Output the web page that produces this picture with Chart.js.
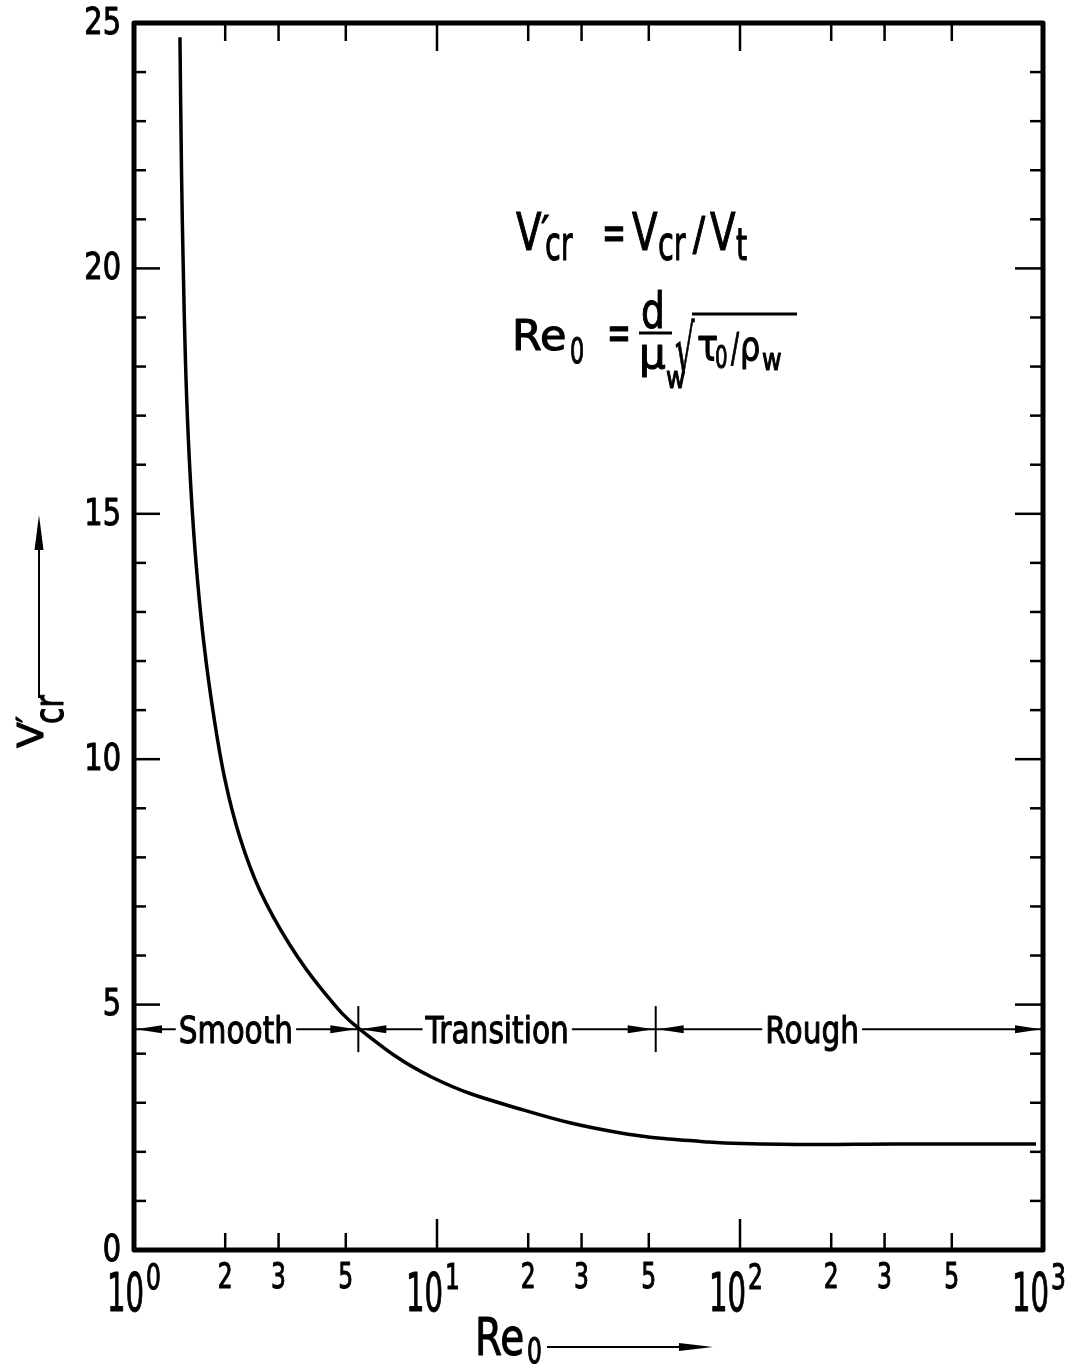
<!DOCTYPE html>
<html>
<head>
<meta charset="utf-8">
<script src="https://cdn.jsdelivr.net/npm/chart.js@4.4.1/dist/chart.umd.min.js"></script>
<style>
  html, body { margin: 0; padding: 0; background: #fff; }
  canvas { display: block; }
</style>
</head>
<body>
<canvas id="chart" width="1080" height="1369"></canvas>
<script>
// curve: V'cr against Re0
const reValues  = [1.418, 1.435, 1.454, 1.479, 1.511, 1.557, 1.620, 1.706, 1.827, 1.997, 2.238, 2.605, 3.273, 4.215, 5.504, 9.63, 19.37, 39.1, 78.8, 158.7, 319.8, 948];
const vcrValues = [24.71, 21.96, 20.01, 18.09, 16.54, 15.06, 13.65, 12.29, 10.94, 9.58, 8.40, 7.32, 6.21, 5.27, 4.52, 3.52, 2.85, 2.40, 2.20, 2.15, 2.16, 2.16];

// axes
const yTickLabels = [0, 5, 10, 15, 20, 25];
const xDecades = [1, 10, 100, 1000];
const xDecadeExp = ['0', '1', '2', '3'];
const xMinor = [2, 3, 5, 20, 30, 50, 200, 300, 500];
const xMinorLabels = ['2', '3', '5', '2', '3', '5', '2', '3', '5'];

// flow regimes
const regimeBounds = [5.5, 52.7];
const regimeNames = ['Smooth', 'Transition', 'Rough'];
const regimeTextAt = [2.17, 15.8, 173];
const regimeLevel = 4.5;

const FONT = '"DejaVu Sans"';

// text squeezed sideways, a little heavier, to look like the stencil lettering
function txt(ctx, s, x, y, size, sx, align, base) {
	ctx.save();
	ctx.translate(x, y);
	ctx.scale(sx, 1);
	ctx.font = size + 'px ' + FONT;
	ctx.textAlign = align || 'left';
	ctx.textBaseline = base || 'alphabetic';
	ctx.fillText(s, 0, 0);
	ctx.lineWidth = 1.1;
	ctx.lineJoin = 'round';
	ctx.strokeText(s, 0, 0);
	let w = ctx.measureText(s).width * sx;
	ctx.restore();
	return w;
}

function seg(ctx, x1, y1, x2, y2, w) {
	ctx.lineWidth = w;
	ctx.beginPath();
	ctx.moveTo(x1, y1);
	ctx.lineTo(x2, y2);
	ctx.stroke();
}

function head(ctx, tx, ty, dx, dy, len, half) {
	let bx = tx - dx * len, by = ty - dy * len;
	ctx.beginPath();
	ctx.moveTo(tx, ty);
	ctx.lineTo(bx - dy * half, by + dx * half);
	ctx.lineTo(bx + dy * half, by - dx * half);
	ctx.closePath();
	ctx.fill();
}

const paper = {
	id: 'paper',
	afterDraw(chart) {
		const ctx = chart.ctx;
		const xs = chart.scales.x, ys = chart.scales.y;
		const a = chart.chartArea;
		ctx.save();
		ctx.strokeStyle = '#000';
		ctx.fillStyle = '#000';

		// inside ticks, y
		for (let v = 1; v < 25; v++) {
			let py = ys.getPixelForValue(v);
			let major = v % 5 === 0;
			seg(ctx, a.left, py, a.left + (major ? 26 : 12), py, 2.5);
			seg(ctx, a.right, py, a.right - (major ? 28 : 13), py, 2.5);
		}
		// inside ticks, x
		xMinor.forEach(v => {
			let px = xs.getPixelForValue(v);
			seg(ctx, px, a.bottom, px, a.bottom - 17, 2.5);
			seg(ctx, px, a.top, px, a.top + 18, 2.5);
		});
		xDecades.slice(1, -1).forEach(v => {
			let px = xs.getPixelForValue(v);
			seg(ctx, px, a.bottom, px, a.bottom - 31, 2.5);
			seg(ctx, px, a.top, px, a.top + 28, 2.5);
		});

		// frame
		ctx.lineJoin = 'round';
		ctx.lineWidth = 5;
		ctx.strokeRect(a.left, a.top, a.right - a.left, a.bottom - a.top);

		// y labels
		yTickLabels.forEach(v => {
			txt(ctx, String(v), a.left - 13, ys.getPixelForValue(v) + 1, 38, 0.76, 'right', 'middle');
		});
		// x labels
		xMinor.forEach((v, i) => {
			txt(ctx, xMinorLabels[i], xs.getPixelForValue(v), a.bottom + 38, 36, 0.65, 'center');
		});
		xDecades.forEach((v, i) => {
			ctx.save();
			ctx.font = '53px ' + FONT;
			let w10 = ctx.measureText('10').width * 0.55;
			ctx.font = '36px ' + FONT;
			let wsup = ctx.measureText(xDecadeExp[i]).width * 0.65;
			ctx.restore();
			let x0 = xs.getPixelForValue(v) - (i === 0 ? 0 : 4) - (w10 + 2 + wsup) / 2;
			txt(ctx, '10', x0, a.bottom + 61, 53, 0.55);
			txt(ctx, xDecadeExp[i], x0 + w10 + 2, a.bottom + 39, 36, 0.65);
		});

		// regimes
		let ly = ys.getPixelForValue(regimeLevel);
		let bx = [a.left + 2, xs.getPixelForValue(regimeBounds[0]), xs.getPixelForValue(regimeBounds[1]), a.right - 2];
		seg(ctx, a.left, ly, a.right, ly, 2);
		seg(ctx, bx[1], ly - 23, bx[1], ly + 23, 2);
		seg(ctx, bx[2], ly - 23, bx[2], ly + 23, 2);
		for (let i = 0; i < 3; i++) {
			head(ctx, bx[i] + (i === 0 ? 0 : 2), ly, -1, 0, 26, 4);
			head(ctx, bx[i + 1] - (i === 2 ? 0 : 2), ly, 1, 0, 26, 4);
		}
		regimeNames.forEach((s, i) => {
			let cx = xs.getPixelForValue(regimeTextAt[i]);
			ctx.save();
			ctx.font = '38px ' + FONT;
			let w = ctx.measureText(s).width * 0.78;
			ctx.restore();
			ctx.fillStyle = '#fff';
			ctx.fillRect(cx - w / 2 - 3, ly - 5, w + 6, 10);
			ctx.fillStyle = '#000';
			txt(ctx, s, cx, ly + 14, 38, 0.78, 'center');
		});

		// formulas
		txt(ctx, 'V', 516, 250, 52, 0.72);
		txt(ctx, '\u2032', 541, 246, 42, 0.9);
		txt(ctx, 'cr', 545, 260, 48, 0.6);
		txt(ctx, '=', 614, 250, 52, 0.55, 'center');
		txt(ctx, 'V', 632, 250, 52, 0.72);
		txt(ctx, 'cr', 658, 260, 48, 0.6);
		txt(ctx, '/', 699, 250, 46, 0.8, 'center');
		txt(ctx, 'V', 710, 250, 52, 0.72);
		txt(ctx, 't', 736, 260, 44, 0.65);

		txt(ctx, 'Re', 512, 350, 43, 1.0);
		txt(ctx, '0', 570, 363, 36, 0.62);
		txt(ctx, '=', 619, 350, 52, 0.55, 'center');
		txt(ctx, 'd', 641, 328, 50, 0.75);
		seg(ctx, 639, 333, 672, 333, 3);
		txt(ctx, '\u03bc', 639, 368, 42, 1.0);
		txt(ctx, 'w', 666, 388, 30, 0.8);
		txt(ctx, '\u221a', 675, 374, 68, 0.45);
		seg(ctx, 692, 314, 797, 314, 3);
		txt(ctx, '\u03c4', 697, 360, 44, 0.8);
		txt(ctx, '0', 715, 368, 32, 0.62);
		txt(ctx, '/', 731, 362, 40, 0.6);
		txt(ctx, '\u03c1', 740, 360, 40, 0.8);
		txt(ctx, 'w', 762, 370, 30, 0.8);

		// axis titles
		txt(ctx, 'Re', 475, 1355, 52, 0.75);
		txt(ctx, '0', 527, 1363, 36, 0.65);
		seg(ctx, 547, 1347, 690, 1347, 2);
		head(ctx, 713, 1347, 1, 0, 34, 4);

		ctx.save();
		ctx.translate(43, 748);
		ctx.rotate(-Math.PI / 2);
		txt(ctx, 'V', 0, 0, 36, 1.05);
		txt(ctx, '\u2032', 25, -2, 34, 0.9);
		txt(ctx, 'cr', 24, 20, 40, 0.75);
		ctx.restore();
		seg(ctx, 39, 698, 39, 540, 2);
		head(ctx, 39, 515, 0, -1, 35, 4.5);

		ctx.restore();
	}
};

new Chart(document.getElementById('chart'), {
	type: 'line',
	data: {
		datasets: [{
			data: reValues.map((r, i) => ({ x: r, y: vcrValues[i] })),
			borderColor: '#000',
			borderWidth: 3.5,
			pointRadius: 0,
			tension: 0.4,
			fill: false
		}]
	},
	options: {
		responsive: false,
		animation: false,
		layout: { padding: { left: 134, right: 37, top: 23, bottom: 119 } },
		scales: {
			x: { type: 'logarithmic', min: 1, max: 1000, display: false },
			y: { type: 'linear', min: 0, max: 25, display: false }
		},
		plugins: {
			legend: { display: false },
			tooltip: { enabled: false }
		}
	},
	plugins: [paper]
});
</script>
</body>
</html>
